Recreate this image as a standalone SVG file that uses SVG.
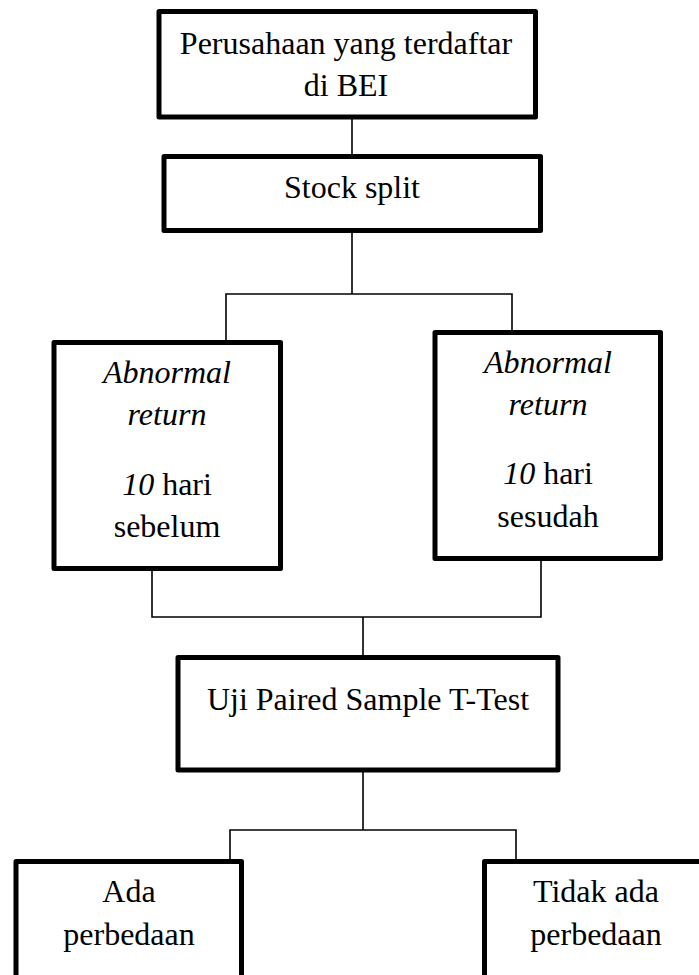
<svg xmlns="http://www.w3.org/2000/svg" width="699" height="975" viewBox="0 0 699 975">
<style>
.box{fill:#fff;stroke:#000;stroke-width:5;stroke-linejoin:round}
.con{fill:none;stroke:#000;stroke-width:1.6}
.t{font-family:'Liberation Serif','Times New Roman',Times,'DejaVu Serif',serif;font-size:32px;fill:#000;text-anchor:middle}
.it{font-style:italic}
</style>
<rect width="699" height="975" fill="#fff"/>
<g id="connectors">
<path class="con" d="M352 117V156.5"/>
<path class="con" d="M352 230.5V294M226 342.5V294H512V332.5"/>
<path class="con" d="M152 568.5V617H541V558.5M363 617V657.5"/>
<path class="con" d="M363 770V830M230 861.5V830H516V861.5"/>
</g>
<g id="node-perusahaan">
<rect class="box" x="159" y="11.5" width="376.5" height="105.5"/>
<text class="t" x="346" y="53.5" font-family="Liberation Serif, serif">Perusahaan yang terdaftar</text>
<text class="t" x="346" y="95.5" font-family="Liberation Serif, serif">di BEI</text>
</g>
<g id="node-stocksplit">
<rect class="box" x="164" y="156.5" width="376.5" height="74"/>
<text class="t" x="352" y="198">Stock split</text>
</g>
<g id="node-sebelum">
<rect class="box" x="54" y="342.5" width="226.5" height="226"/>
<text x="167" y="383" class="t it">Abnormal</text>
<text x="167" y="425" class="t it">return</text>
<text class="t" x="167" y="495"><tspan class="it">10</tspan> hari</text>
<text class="t" x="167" y="537">sebelum</text>
</g>
<g id="node-sesudah">
<rect class="box" x="435" y="332.5" width="225.5" height="226"/>
<text x="548" y="373" class="t it">Abnormal</text>
<text x="548" y="415" class="t it">return</text>
<text class="t" x="548" y="484"><tspan class="it">10</tspan> hari</text>
<text class="t" x="548" y="527">sesudah</text>
</g>
<g id="node-uji">
<rect class="box" x="178" y="657.5" width="380" height="112.5"/>
<text class="t" x="368" y="710">Uji Paired Sample T-Test</text>
</g>
<g id="node-ada">
<rect class="box" x="16" y="861.5" width="225.5" height="140"/>
<text class="t" x="129" y="902">Ada</text>
<text class="t" x="129" y="945">perbedaan</text>
</g>
<g id="node-tidak">
<rect class="box" x="484.5" y="861.5" width="223" height="140"/>
<text class="t" x="596" y="902">Tidak ada</text>
<text class="t" x="596" y="945">perbedaan</text>
</g>
</svg>
